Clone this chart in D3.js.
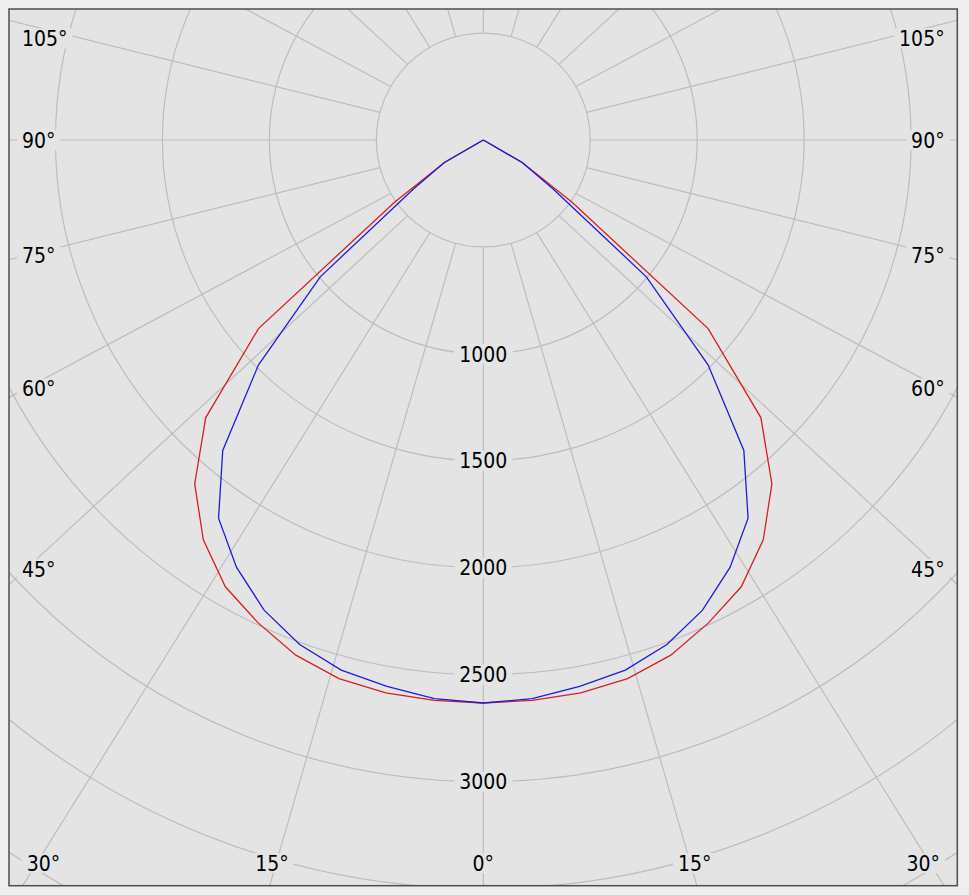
<!DOCTYPE html>
<html>
<head>
<meta charset="utf-8">
<script src="https://cdnjs.cloudflare.com/ajax/libs/d3/7.8.5/d3.min.js"></script>
<style>
  html, body { margin: 0; padding: 0; background: #eeeeee; }
  svg { display: block; }
  text {
    font-family: "DejaVu Sans Condensed", "DejaVu Sans", sans-serif;
    font-stretch: condensed;
    font-size: 21px;
    fill: #000;
  }
</style>
</head>
<body>
<svg id="chart" width="969" height="895"></svg>
<script>
// ---------------- data ----------------
const gammaAngles = [0, 5, 10, 15, 20, 25, 30, 35, 40, 45, 50, 55, 60, 65, 70, 75, 80, 85, 90];
const redValues   = [2632, 2630, 2625, 2607, 2563, 2491, 2412, 2282, 2099, 1835, 1372, 505, 210, 0, 0, 0, 0, 0, 0];
const blueValues  = [2632, 2622, 2594, 2566, 2510, 2425, 2307, 2158, 1895, 1486, 995, 397, 210, 0, 0, 0, 0, 0, 0];
const ringValues = [500, 1000, 1500, 2000, 2500, 3000, 3500, 4000, 4500];
const ringLabelValues = [1000, 1500, 2000, 2500, 3000];
const spokeAngles = d3.range(0, 360, 15);
const angleLabelValues = [0, 15, 30, 45, 60, 75, 90, 105];

// ---------------- layout ----------------
const W = 969, H = 895;
const plot = { x0: 9, y0: 9, x1: 957.3, y1: 885.7 };
const cx = 483.3, cy = 140;
const k = 1.08;               // horizontal stretch of the spokes
const rScale = d3.scaleLinear().domain([0, 3000]).range([0, 641.7]);
const rInner = rScale(500);
const gridColor = "#bdbdbd";
const bg = "#e4e4e4";

const svg = d3.select("#chart");
svg.append("rect").attr("width", W).attr("height", H).attr("fill", "#eeeeee");

svg.append("defs").append("clipPath").attr("id", "plotClip")
  .append("rect")
  .attr("x", plot.x0).attr("y", plot.y0)
  .attr("width", plot.x1 - plot.x0).attr("height", plot.y1 - plot.y0);

svg.append("rect")
  .attr("x", plot.x0).attr("y", plot.y0)
  .attr("width", plot.x1 - plot.x0).attr("height", plot.y1 - plot.y0)
  .attr("fill", bg);

const g = svg.append("g").attr("clip-path", "url(#plotClip)");

// rings
g.append("g").selectAll("circle").data(ringValues).join("circle")
  .attr("cx", cx).attr("cy", cy)
  .attr("r", d => rScale(d))
  .attr("fill", "none")
  .attr("stroke", gridColor).attr("stroke-width", 1.2);

// spokes (gamma measured from straight down, positive to the right)
const rad = d => d * Math.PI / 180;
function spoke(theta) {
  const s = Math.sin(rad(theta)), c = Math.cos(rad(theta));
  const p = [cx + rInner * s, cy + rInner * c];
  const d = [k * s, c];
  return { p, d };
}
g.append("g").selectAll("line").data(spokeAngles).join("line")
  .each(function (theta) {
    const sp = spoke(theta);
    d3.select(this)
      .attr("x1", sp.p[0]).attr("y1", sp.p[1])
      .attr("x2", sp.p[0] + 2000 * sp.d[0]).attr("y2", sp.p[1] + 2000 * sp.d[1]);
  })
  .attr("stroke", gridColor).attr("stroke-width", 1.2);

// curves
function curvePoints(values) {
  const left = gammaAngles.map((a, i) => ({ a: Math.PI + rad(a), v: values[i] })).reverse();
  const right = gammaAngles.map((a, i) => ({ a: Math.PI - rad(a), v: values[i] }));
  return left.concat(right.slice(1));
}
const radial = d3.lineRadial().angle(d => d.a).radius(d => rScale(d.v));
const curves = g.append("g").attr("transform", `translate(${cx},${cy})`);
curves.append("path").attr("d", radial(curvePoints(redValues)))
  .attr("fill", "none").attr("stroke", "#d42020").attr("stroke-width", 1.3);
curves.append("path").attr("d", radial(curvePoints(blueValues)))
  .attr("fill", "none").attr("stroke", "#1c1cd6").attr("stroke-width", 1.3);

// label helper with background box
const labels = svg.append("g");
function addLabel(x, y, str, anchor) {
  const grp = labels.append("g");
  const t = grp.append("text").attr("x", x).attr("y", y + 7.6)
    .attr("text-anchor", anchor).text(str);
  const bb = t.node().getBBox();
  grp.insert("rect", "text")
    .attr("x", bb.x - 5).attr("y", y - 10).attr("width", bb.width + 10).attr("height", 20)
    .attr("fill", bg);
  return { grp, t, bb };
}

// ring labels
ringLabelValues.forEach(v => addLabel(cx, cy + rScale(v), String(v), "middle"));

// angle labels
const insetX = 26, insetY = 878;
const leftX = insetX, rightX = 2 * cx - insetX;
angleLabelValues.forEach(a => {
  const sides = a === 0 ? [1] : [-1, 1];
  sides.forEach(side => {
    const sp = spoke(side * a);
    const str = a + "°";
    let xb = null;
    if (sp.d[1] > 0) {
      const tB = (insetY - sp.p[1]) / sp.d[1];
      xb = sp.p[0] + tB * sp.d[0];
    }
    if (xb !== null && xb >= leftX - 10 && xb <= rightX + 10) {
      const lab = addLabel(xb, 863, str, "middle");
      let shift = 0;
      if (lab.bb.x < 26.7) shift = 26.7 - lab.bb.x;
      if (lab.bb.x + lab.bb.width > 940) shift = 940 - (lab.bb.x + lab.bb.width);
      lab.grp.attr("transform", `translate(${shift},0)`);
    } else {
      const xs = side < 0 ? leftX : rightX;
      const t = (xs - sp.p[0]) / sp.d[0];
      let y = sp.p[1] + t * sp.d[1];
      y = Math.max(y, 38.3);
      if (side < 0) addLabel(22, y, str, "start");
      else addLabel(2 * cx - 22, y, str, "end");
    }
  });
});

// border
svg.append("rect")
  .attr("x", plot.x0).attr("y", plot.y0)
  .attr("width", plot.x1 - plot.x0).attr("height", plot.y1 - plot.y0)
  .attr("fill", "none").attr("stroke", "#4d4d4d").attr("stroke-width", 1.5);
</script>
</body>
</html>
